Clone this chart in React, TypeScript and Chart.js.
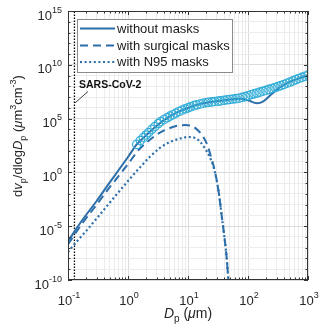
import React, { useEffect, useRef } from 'react';
import { Chart, registerables } from 'chart.js';
Chart.register(...registerables);

// ---------- data ----------
const markerD = [1.4, 1.6, 1.8, 2.0, 2.2, 2.5, 2.8, 3.2, 3.5, 4.0, 4.5, 5.0, 5.6, 6.3, 7.1, 8.0, 9.0, 10, 11, 12.6, 14, 16, 18, 20, 22, 25, 28, 32, 35, 40, 45, 50, 56, 63, 71, 80, 90, 100, 112, 126, 141, 158, 178, 200, 224, 251, 282, 316, 355, 398, 447, 501, 562, 631, 708, 794, 891, 1000];
const markerV = [4e2, 9e2, 1.7e3, 3e3, 5e3, 1e4, 1.8e4, 3.5e4, 5.2e4, 8.3e4, 1.2e5, 1.7e5, 2.3e5, 3.3e5, 4.6e5, 6.2e5, 8.1e5, 1.0e6, 1.26e6, 1.6e6, 1.9e6, 2.3e6, 2.7e6, 3.0e6, 3.3e6, 3.6e6, 3.9e6, 4.2e6, 4.4e6, 5.0e6, 5.6e6, 6.0e6, 6.6e6, 7.2e6, 7.9e6, 9.3e6, 1.1e7, 1.35e7, 1.66e7, 2.0e7, 2.4e7, 2.9e7, 3.5e7, 4.3e7, 5.2e7, 6.3e7, 7.8e7, 9.3e7, 1.15e8, 1.5e8, 1.95e8, 2.5e8, 3.2e8, 4.2e8, 5.4e8, 6.9e8, 8.7e8, 1.1e9];

const noMaskD = [0.1, 0.17, 0.3, 0.5, 0.7, 1.0, 1.4, 2, 3, 5, 7, 10, 15, 20, 30, 50, 75, 100, 141, 180, 250, 340, 450, 700, 1000];
const noMaskV = [4e-7, 3.2e-5, 2.2e-3, 0.126, 1.66, 27, 400, 2.8e3, 2.2e4, 1.6e5, 4.4e5, 1e6, 2.1e6, 3e6, 4e6, 6e6, 7e6, 5e6, 2.6e6, 4e6, 2e7, 8e7, 2e8, 5.4e8, 1.1e9];

const surgicalD = [0.1, 0.17, 0.3, 0.5, 0.7, 1.0, 1.5, 2, 3, 5, 7, 9, 12, 15, 18, 21, 24, 27, 30, 33, 36, 40, 44, 47];
const surgicalV = [2e-7, 1.6e-5, 1e-3, 4.5e-2, 0.47, 6, 120, 540, 3.2e3, 1.35e4, 2.3e4, 2.5e4, 1.9e4, 7e3, 2e3, 355, 32, 3.2, 0.2, 8e-3, 1.6e-4, 1.6e-6, 1.4e-8, 1e-10];

const n95D = [0.1, 0.15, 0.2, 0.3, 0.5, 0.7, 1.0, 1.5, 2.3, 3.4, 5, 7.4, 10, 13, 16, 19, 23, 26.5, 30, 33, 36, 40, 44, 47];
const n95V = [4e-8, 5.8e-7, 3.5e-6, 5.2e-5, 1.6e-3, 1.5e-2, 0.16, 2.1, 27, 186, 676, 1.4e3, 1.95e3, 1.6e3, 680, 186, 27, 3.5, 0.2, 8e-3, 1.6e-4, 1.6e-6, 1.4e-8, 1e-10];

const sarsD = 0.128;
const sarsLabel = 'SARS-CoV-2';
const legendLabels = ['without masks', 'with surgical masks', 'with N95 masks'];
const xLabelExps = ['-1', '0', '1', '2', '3'];
const yLabelExps = ['-10', '-5', '0', '5', '10', '15'];
const xMin = 0.1, xMax = 1000, yMin = 1e-10, yMax = 1e15;

// ---------- styles ----------
const LINE = '#2b6ea9';
const MARK = '#33aed8';
const FONT = '"Liberation Sans", Arial, Helvetica, sans-serif';
const DASH = [8, 5];
const DOT = [2, 2.6];

const pts = (d: number[], v: number[]) => d.map((x, i) => ({ x, y: v[i] }));

type Seg = { t: string; it?: boolean; s?: 'sub' | 'sup' };

function segWidth(ctx: CanvasRenderingContext2D, segs: Seg[], size: number, small: number) {
  let w = 0;
  for (const s of segs) {
    ctx.font = `${s.it ? 'italic ' : ''}${s.s ? small : size}px ${FONT}`;
    w += ctx.measureText(s.t).width;
  }
  return w;
}
function drawSegs(ctx: CanvasRenderingContext2D, segs: Seg[], x: number, y: number, size: number, small: number, sub: number, sup: number) {
  let cx = x;
  ctx.textAlign = 'left';
  ctx.textBaseline = 'alphabetic';
  for (const s of segs) {
    ctx.font = `${s.it ? 'italic ' : ''}${s.s ? small : size}px ${FONT}`;
    const dy = s.s === 'sub' ? sub : s.s === 'sup' ? -sup : 0;
    ctx.fillText(s.t, cx, y + dy);
    cx += ctx.measureText(s.t).width;
  }
}

const decorations = {
  id: 'decorations',
  afterDraw(chart: any) {
    const ctx: CanvasRenderingContext2D = chart.ctx;
    const { left, right, top, bottom } = chart.chartArea;
    const xs = chart.scales.x;
    const ys = chart.scales.y;
    ctx.save();
    // frame
    ctx.strokeStyle = '#333';
    ctx.lineWidth = 1;
    ctx.strokeRect(left + 0.5, top + 0.5, right - left - 1, bottom - top - 1);
    // ticks
    ctx.beginPath();
    for (const t of xs.ticks) {
      const px = Math.round(xs.getPixelForValue(t.value)) + 0.5;
      const len = t.major ? 4 : 2.5;
      ctx.moveTo(px, bottom); ctx.lineTo(px, bottom - len);
      ctx.moveTo(px, top); ctx.lineTo(px, top + len);
    }
    for (const t of ys.ticks) {
      const py = Math.round(ys.getPixelForValue(t.value)) + 0.5;
      const len = t.major ? 4 : 2.5;
      ctx.moveTo(left, py); ctx.lineTo(left + len, py);
      ctx.moveTo(right, py); ctx.lineTo(right - len, py);
    }
    ctx.stroke();

    ctx.fillStyle = '#262626';
    // y tick labels
    for (const e of yLabelExps) {
      const py = ys.getPixelForValue(Math.pow(10, Number(e)));
      const segs: Seg[] = [{ t: '10' }, { t: e, s: 'sup' }];
      const w = segWidth(ctx, segs, 13, 9);
      drawSegs(ctx, segs, left - 6 - w, py + 8.5, 13, 9, 0, 7);
    }
    // x tick labels
    for (const e of xLabelExps) {
      const px = xs.getPixelForValue(Math.pow(10, Number(e)));
      const segs: Seg[] = [{ t: '10' }, { t: e, s: 'sup' }];
      const w = segWidth(ctx, segs, 13, 9);
      drawSegs(ctx, segs, px - w / 2 + 1, bottom + 25, 13, 9, 0, 7);
    }
    // x title
    const xt: Seg[] = [{ t: 'D', it: true }, { t: 'p', s: 'sub' }, { t: ' (' }, { t: 'μ', it: true }, { t: 'm)' }];
    const xw = segWidth(ctx, xt, 14, 10);
    drawSegs(ctx, xt, (left + right) / 2 - xw / 2, bottom + 38, 14, 10, 4, 6);
    // y title
    const yt: Seg[] = [
      { t: 'd' }, { t: 'v', it: true }, { t: 'p', s: 'sub' }, { t: '/dlog' }, { t: 'D', it: true }, { t: 'p', s: 'sub' },
      { t: ' (' }, { t: 'μ', it: true }, { t: 'm' }, { t: '3', s: 'sup' }, { t: 'cm' }, { t: '-3', s: 'sup' }, { t: ')' },
    ];
    const yw = segWidth(ctx, yt, 13, 9);
    ctx.save();
    ctx.translate(22, 136);
    ctx.rotate(-Math.PI / 2);
    drawSegs(ctx, yt, -yw / 2, 0, 13, 9, 4, 6);
    ctx.restore();

    // SARS label
    ctx.fillStyle = '#111';
    ctx.font = `bold 10.5px ${FONT}`;
    ctx.textAlign = 'left';
    ctx.fillText(sarsLabel, 79, 88);
    const sx = xs.getPixelForValue(sarsD);
    ctx.strokeStyle = '#111';
    ctx.lineWidth = 0.8;
    ctx.beginPath();
    ctx.moveTo(88, 91.5);
    ctx.lineTo(sx + 0.5, 103);
    ctx.stroke();

    // legend
    const lx = 77.5, ly = 19.5, lw = 155, lh = 53;
    ctx.fillStyle = '#fff';
    ctx.fillRect(lx, ly, lw, lh);
    ctx.strokeStyle = '#8a8a8a';
    ctx.lineWidth = 1;
    ctx.strokeRect(lx, ly, lw, lh);
    const rows = [28.5, 45.5, 62];
    const dashes = [[], DASH, DOT];
    const widths = [2, 2, 2.2];
    rows.forEach((ry, i) => {
      ctx.strokeStyle = LINE;
      ctx.lineWidth = widths[i];
      ctx.setLineDash(dashes[i]);
      ctx.beginPath();
      ctx.moveTo(80, ry);
      ctx.lineTo(115, ry);
      ctx.stroke();
      ctx.setLineDash([]);
      ctx.fillStyle = '#1a1a1a';
      ctx.font = `13px ${FONT}`;
      ctx.textBaseline = 'middle';
      ctx.fillText(legendLabels[i], 117, ry + 0.5);
      ctx.textBaseline = 'alphabetic';
    });
    ctx.restore();
  },
};

export default function App() {
  const ref = useRef<HTMLCanvasElement>(null);
  useEffect(() => {
    const xTicks: number[] = [];
    for (let e = -1; e <= 3; e++) {
      for (let m = 1; m <= 9; m++) {
        const v = m * Math.pow(10, e);
        if (v <= xMax * 1.0001) xTicks.push(v);
      }
    }
    const yTicks: number[] = [];
    for (let e = -10; e <= 15; e++) yTicks.push(e);

    const chart = new Chart(ref.current as HTMLCanvasElement, {
      type: 'line',
      data: {
        datasets: [
          {
            label: 'fit',
            data: pts(markerD, markerV),
            showLine: false,
            pointStyle: 'circle',
            pointRadius: 4.2,
            pointBorderWidth: 1.2,
            pointBorderColor: MARK,
            pointBackgroundColor: 'rgba(255,255,255,0)',
            borderColor: MARK,
          },
          {
            label: legendLabels[0],
            data: pts(noMaskD, noMaskV),
            borderColor: LINE,
            borderWidth: 2,
            pointRadius: 0,
            cubicInterpolationMode: 'monotone',
          },
          {
            label: legendLabels[1],
            data: pts(surgicalD, surgicalV),
            borderColor: LINE,
            borderWidth: 2,
            borderDash: DASH,
            pointRadius: 0,
            cubicInterpolationMode: 'monotone',
          },
          {
            label: legendLabels[2],
            data: pts(n95D, n95V),
            borderColor: LINE,
            borderWidth: 2.2,
            borderDash: DOT,
            pointRadius: 0,
            cubicInterpolationMode: 'monotone',
          },
          {
            label: sarsLabel,
            data: [{ x: sarsD, y: yMin }, { x: sarsD, y: yMax }],
            borderColor: '#000',
            borderWidth: 1.3,
            borderDash: [1.5, 1.5],
            pointRadius: 0,
          },
        ],
      },
      options: {
        animation: false,
        responsive: false,
        maintainAspectRatio: false,
        layout: { padding: { left: 68, top: 11, right: 13, bottom: 55 } },
        plugins: { legend: { display: false }, tooltip: { enabled: false } },
        scales: {
          x: {
            type: 'logarithmic',
            min: xMin,
            max: xMax,
            afterBuildTicks: (s: any) => {
              s.ticks = xTicks.map((v) => ({ value: v, major: Math.abs(Math.log10(v) - Math.round(Math.log10(v))) < 1e-9 }));
            },
            afterFit: (s: any) => { s.height = 0; },
            ticks: { display: false },
            grid: {
              drawTicks: false,
              color: (c: any) => (c.tick && c.tick.major ? '#dcdcdc' : '#ececec'),
              lineWidth: 1,
            },
            border: { display: false },
          },
          y: {
            type: 'logarithmic',
            min: yMin,
            max: yMax,
            afterBuildTicks: (s: any) => {
              s.ticks = yTicks.map((e) => ({ value: Math.pow(10, e), major: e % 5 === 0 }));
            },
            afterFit: (s: any) => { s.width = 0; },
            ticks: { display: false },
            grid: {
              drawTicks: false,
              color: (c: any) => (c.tick && c.tick.major ? '#dcdcdc' : '#ececec'),
              lineWidth: 1,
            },
            border: { display: false },
          },
        },
      },
      plugins: [decorations],
    } as any);
    return () => chart.destroy();
  }, []);

  return (
    <div style={{ position: 'fixed', left: 0, top: 0, width: 321, height: 335, background: '#fff' }}>
      <canvas ref={ref} width={321} height={335} />
    </div>
  );
}
